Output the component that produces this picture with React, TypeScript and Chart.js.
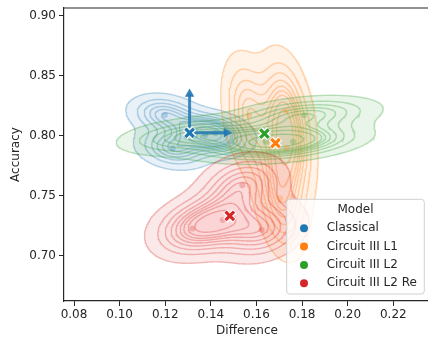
import React, { useEffect, useRef } from "react";
import { Chart, registerables } from "chart.js";
Chart.register(...registerables);

// ---------------- data ----------------
const modelNames = ["Classical", "Circuit III L1", "Circuit III L2", "Circuit III L2 Re"];
const modelColors: number[][] = [
  [31, 119, 180],
  [255, 127, 14],
  [44, 160, 44],
  [214, 39, 40],
];

const classicalDiff = [0.1199, 0.1233, 0.1375, 0.142];
const classicalAcc = [0.8173, 0.7895, 0.8006, 0.8022];
const l1Diff = [0.1568, 0.173, 0.1732, 0.1704];
const l1Acc = [0.8169, 0.821, 0.7895, 0.748];
const l2Diff = [0.133, 0.164, 0.176, 0.181];
const l2Acc = [0.8, 0.795, 0.795, 0.817];
const l2ReDiff = [0.1319, 0.1452, 0.1538, 0.1623];
const l2ReAcc = [0.7228, 0.7298, 0.7587, 0.7214];

const xTicks = [0.08, 0.1, 0.12, 0.14, 0.16, 0.18, 0.2, 0.22];
const yTicks = [0.7, 0.75, 0.8, 0.85, 0.9];
const xLimits = [0.0756, 0.2361];
const yLimits = [0.6623, 0.9064];

// seaborn default: levels=10, thresh=0.05 -> linspace(0.05, 1, 10) (last one is the peak)
const isoProportions = [0.05, 0.1556, 0.2611, 0.3667, 0.4722, 0.5778, 0.6833, 0.7889, 0.8944];

// arrows drawn from the Classical mean
const arrowDx = [0, 0.0162];
const arrowDy = [0.0324, 0];
const arrowRotation = [0, 90];

const seriesDiff = [classicalDiff, l1Diff, l2Diff, l2ReDiff];
const seriesAcc = [classicalAcc, l1Acc, l2Acc, l2ReAcc];

// ---------------- helpers ----------------
const rgba = (c: number[], a: number) => `rgba(${c[0]},${c[1]},${c[2]},${a})`;
const mean = (a: number[]) => a.reduce((s, v) => s + v, 0) / a.length;

function kde2d(xs: number[], ys: number[], gs = 180, cut = 3) {
  const n = xs.length;
  const mx = mean(xs), my = mean(ys);
  let sxx = 0, syy = 0, sxy = 0;
  for (let i = 0; i < n; i++) {
    const dx = xs[i] - mx, dy = ys[i] - my;
    sxx += dx * dx; syy += dy * dy; sxy += dx * dy;
  }
  sxx /= n - 1; syy /= n - 1; sxy /= n - 1;
  const f2 = Math.pow(n, -2 / 6);
  const cxx = sxx * f2, cyy = syy * f2, cxy = sxy * f2;
  const det = cxx * cyy - cxy * cxy;
  const ixx = cyy / det, iyy = cxx / det, ixy = -cxy / det;
  const norm = 1 / (2 * Math.PI * Math.sqrt(det) * n);
  const bx = Math.sqrt(cxx), by = Math.sqrt(cyy);
  const x0 = Math.min(...xs) - cut * bx, x1 = Math.max(...xs) + cut * bx;
  const y0 = Math.min(...ys) - cut * by, y1 = Math.max(...ys) + cut * by;
  const gx: number[] = [], gy: number[] = [];
  for (let i = 0; i < gs; i++) {
    gx.push(x0 + ((x1 - x0) * i) / (gs - 1));
    gy.push(y0 + ((y1 - y0) * i) / (gs - 1));
  }
  const z = new Float64Array(gs * gs);
  for (let j = 0; j < gs; j++) {
    for (let i = 0; i < gs; i++) {
      let s = 0;
      for (let k = 0; k < n; k++) {
        const dx = gx[i] - xs[k], dy = gy[j] - ys[k];
        s += Math.exp(-0.5 * (ixx * dx * dx + 2 * ixy * dx * dy + iyy * dy * dy));
      }
      z[j * gs + i] = s * norm;
    }
  }
  return { z, gx, gy, gs };
}

function isoLevels(z: Float64Array, props: number[]) {
  const sorted = Array.from(z).sort((a, b) => b - a);
  const total = sorted.reduce((s, v) => s + v, 0);
  const cum: number[] = [];
  let acc = 0;
  for (const v of sorted) { acc += v; cum.push(acc / total); }
  return props.map((p) => {
    const target = 1 - p;
    let idx = cum.findIndex((c) => c >= target);
    if (idx < 0) idx = sorted.length - 1;
    return sorted[idx];
  });
}

function contourRings(z: Float64Array, gx: number[], gy: number[], gs: number, L: number) {
  const pts = new Map<string, { x: number; y: number }>();
  const segs: [string, string][] = [];
  const val = (i: number, j: number) => z[j * gs + i];
  const hKey = (i: number, j: number) => {
    const k = "h" + i + "_" + j;
    if (!pts.has(k)) {
      const a = val(i, j), b = val(i + 1, j);
      const t = (L - a) / (b - a);
      pts.set(k, { x: gx[i] + t * (gx[i + 1] - gx[i]), y: gy[j] });
    }
    return k;
  };
  const vKey = (i: number, j: number) => {
    const k = "v" + i + "_" + j;
    if (!pts.has(k)) {
      const a = val(i, j), b = val(i, j + 1);
      const t = (L - a) / (b - a);
      pts.set(k, { x: gx[i], y: gy[j] + t * (gy[j + 1] - gy[j]) });
    }
    return k;
  };
  for (let j = 0; j < gs - 1; j++) {
    for (let i = 0; i < gs - 1; i++) {
      const a = val(i, j), b = val(i + 1, j), c = val(i + 1, j + 1), d = val(i, j + 1);
      const code = (a >= L ? 1 : 0) | (b >= L ? 2 : 0) | (c >= L ? 4 : 0) | (d >= L ? 8 : 0);
      if (code === 0 || code === 15) continue;
      const B = () => hKey(i, j), T = () => hKey(i, j + 1), Lf = () => vKey(i, j), R = () => vKey(i + 1, j);
      const center = (a + b + c + d) / 4 >= L;
      switch (code) {
        case 1: case 14: segs.push([Lf(), B()]); break;
        case 2: case 13: segs.push([B(), R()]); break;
        case 3: case 12: segs.push([Lf(), R()]); break;
        case 4: case 11: segs.push([R(), T()]); break;
        case 6: case 9: segs.push([B(), T()]); break;
        case 7: case 8: segs.push([Lf(), T()]); break;
        case 5:
          if (center) { segs.push([Lf(), T()]); segs.push([B(), R()]); }
          else { segs.push([Lf(), B()]); segs.push([R(), T()]); }
          break;
        case 10:
          if (center) { segs.push([B(), Lf()]); segs.push([T(), R()]); }
          else { segs.push([B(), R()]); segs.push([T(), Lf()]); }
          break;
      }
    }
  }
  const adj = new Map<string, number[]>();
  segs.forEach((s, idx) => {
    for (const k of s) {
      if (!adj.has(k)) adj.set(k, []);
      adj.get(k)!.push(idx);
    }
  });
  const used = new Uint8Array(segs.length);
  const rings: { x: number; y: number }[][] = [];
  const walk = (start: string, chain: string[]) => {
    let cur = start;
    for (;;) {
      const list = adj.get(cur) || [];
      let next = -1;
      for (const idx of list) if (!used[idx]) { next = idx; break; }
      if (next < 0) break;
      used[next] = 1;
      const [p, q] = segs[next];
      const other = p === cur ? q : p;
      chain.push(other);
      cur = other;
    }
  };
  for (let s = 0; s < segs.length; s++) {
    if (used[s]) continue;
    used[s] = 1;
    const fwd = [segs[s][0], segs[s][1]];
    walk(segs[s][1], fwd);
    const back: string[] = [];
    walk(segs[s][0], back);
    const chain = back.reverse().concat(fwd);
    if (chain.length > 3) rings.push(chain.map((k) => pts.get(k)!));
  }
  return rings;
}

// ---------------- plugins ----------------
const frameAndLegend = {
  id: "frameAndLegend",
  afterDraw(chart: any) {
    const { ctx, chartArea } = chart;
    ctx.save();
    // top spine
    ctx.strokeStyle = "#262626";
    ctx.lineWidth = 1.2;
    ctx.beginPath();
    ctx.moveTo(chartArea.left, chartArea.top);
    ctx.lineTo(chartArea.right, chartArea.top);
    ctx.stroke();
    // legend
    const w = 137.6, h = 94.7;
    const x = chartArea.right - 5.7 - w;
    const y = chartArea.bottom - 7 - h;
    const r = 3;
    ctx.beginPath();
    ctx.moveTo(x + r, y);
    ctx.lineTo(x + w - r, y);
    ctx.arcTo(x + w, y, x + w, y + r, r);
    ctx.lineTo(x + w, y + h - r);
    ctx.arcTo(x + w, y + h, x + w - r, y + h, r);
    ctx.lineTo(x + r, y + h);
    ctx.arcTo(x, y + h, x, y + h - r, r);
    ctx.lineTo(x, y + r);
    ctx.arcTo(x, y, x + r, y, r);
    ctx.closePath();
    ctx.fillStyle = "rgba(255,255,255,0.8)";
    ctx.fill();
    ctx.strokeStyle = "#d0d0d0";
    ctx.lineWidth = 1;
    ctx.stroke();
    ctx.font = "12px 'DejaVu Sans'";
    ctx.fillStyle = "#262626";
    ctx.textBaseline = "middle";
    ctx.textAlign = "center";
    ctx.fillText("Model", x + w / 2, y + 10.7);
    ctx.textAlign = "left";
    modelNames.forEach((name, i) => {
      const cy = y + 29 + 18.3 * i;
      ctx.beginPath();
      ctx.arc(x + 17.3, cy, 4, 0, Math.PI * 2);
      ctx.fillStyle = rgba(modelColors[i], 1);
      ctx.fill();
      ctx.fillStyle = "#262626";
      ctx.fillText(name, x + 40, cy);
    });
    ctx.restore();
  },
};

export default function App() {
  const ref = useRef<HTMLCanvasElement>(null);
  useEffect(() => {
    document.body.style.margin = "0";
    document.body.style.overflow = "hidden";
    Chart.defaults.font.family = "'DejaVu Sans', sans-serif";
    Chart.defaults.font.size = 12;
    Chart.defaults.color = "#262626";

    const datasets: any[] = [];
    // KDE contours
    seriesDiff.forEach((xs, h) => {
      const ys = seriesAcc[h];
      const { z, gx, gy, gs } = kde2d(xs, ys);
      const levels = isoLevels(z, isoProportions);
      levels.forEach((L, li) => {
        const rings = contourRings(z, gx, gy, gs, L);
        rings.forEach((ring) => {
          datasets.push({
            type: "line",
            data: ring,
            borderColor: rgba(modelColors[h], 0.3),
            borderWidth: 1.4,
            backgroundColor: rgba(modelColors[h], li === 0 ? 0.1 : 0.01),
            fill: "shape",
            pointRadius: 0,
            tension: 0,
          });
        });
      });
    });
    // raw points
    seriesDiff.forEach((xs, h) => {
      datasets.push({
        type: "scatter",
        data: xs.map((x, i) => ({ x, y: seriesAcc[h][i] })),
        pointRadius: 3,
        backgroundColor: rgba(modelColors[h], 0.25),
        borderWidth: 0,
      });
    });
    // arrows from Classical mean
    const cx = mean(classicalDiff), cy = mean(classicalAcc);
    arrowDx.forEach((dx, i) => {
      const dy = arrowDy[i];
      datasets.push({
        type: "line",
        data: [{ x: cx, y: cy }, { x: cx + dx, y: cy + dy }],
        borderColor: rgba(modelColors[0], 0.85),
        borderWidth: 3,
        backgroundColor: rgba(modelColors[0], 0.85),
        pointRadius: [0, 5.5],
        pointStyle: "triangle",
        rotation: arrowRotation[i],
        pointBorderWidth: 0,
        pointBackgroundColor: rgba(modelColors[0], 0.9),
        fill: false,
        tension: 0,
      });
    });
    // mean markers (white edge + coloured X)
    const means = seriesDiff.map((xs, h) => ({ x: mean(xs), y: mean(seriesAcc[h]) }));
    means.forEach((m, h) => {
      datasets.push({
        type: "scatter",
        data: [m],
        pointStyle: "crossRot",
        pointRadius: 6.5,
        borderWidth: 6,
        borderColor: "#ffffff",
        backgroundColor: "#ffffff",
      });
      datasets.push({
        type: "scatter",
        data: [m],
        pointStyle: "crossRot",
        pointRadius: 6,
        borderWidth: 3.2,
        borderColor: rgba(modelColors[h], 1),
        backgroundColor: rgba(modelColors[h], 1),
      });
    });
    datasets.forEach((d, i) => (d.order = -i));

    const chart = new Chart(ref.current!, {
      type: "scatter",
      data: { datasets },
      plugins: [frameAndLegend],
      options: {
        animation: false,
        responsive: false,
        events: [],
        layout: { autoPadding: false, padding: { top: 8, left: 0, right: 0, bottom: 0 } },
        plugins: { legend: { display: false }, tooltip: { enabled: false } },
        scales: {
          x: {
            type: "linear",
            min: xLimits[0],
            max: xLimits[1],
            afterBuildTicks: (s: any) => {
              s.ticks = xTicks.map((v) => ({ value: v }));
            },
            afterFit: (s: any) => {
              s.height = 36;
              s.paddingLeft = 0;
              s.paddingRight = 0;
            },
            ticks: {
              callback: (v: any) => Number(v).toFixed(2),
              padding: 2,
              maxRotation: 0,
              autoSkip: false,
              color: "#262626",
              font: { size: 12 },
            },
            grid: { display: true, drawOnChartArea: false, drawTicks: true, tickLength: 5, color: "#262626" },
            border: { display: true, color: "#262626", width: 1.2 },
            title: { display: true, text: "Difference", font: { size: 12, lineHeight: 1 }, padding: { top: 0, bottom: 0 }, color: "#262626" },
          },
          y: {
            type: "linear",
            min: yLimits[0],
            max: yLimits[1],
            afterBuildTicks: (s: any) => {
              s.ticks = yTicks.map((v) => ({ value: v }));
            },
            afterFit: (s: any) => {
              s.width = 64;
              s.paddingTop = 0;
              s.paddingBottom = 0;
            },
            ticks: {
              callback: (v: any) => Number(v).toFixed(2),
              padding: 3,
              autoSkip: false,
              color: "#262626",
              font: { size: 12 },
            },
            grid: { display: true, drawOnChartArea: false, drawTicks: true, tickLength: 5, color: "#262626" },
            border: { display: true, color: "#262626", width: 1.2 },
            title: { display: true, text: "Accuracy", font: { size: 12, lineHeight: 1 }, padding: { top: 10, bottom: 0 }, color: "#262626" },
          },
        },
      },
    });
    return () => chart.destroy();
  }, []);
  return (
    <div style={{ position: "fixed", left: 0, top: 0, width: 428, height: 337, overflow: "hidden", background: "#fff" }}>
      <canvas ref={ref} width={430} height={337} style={{ display: "block" }} />
    </div>
  );
}
